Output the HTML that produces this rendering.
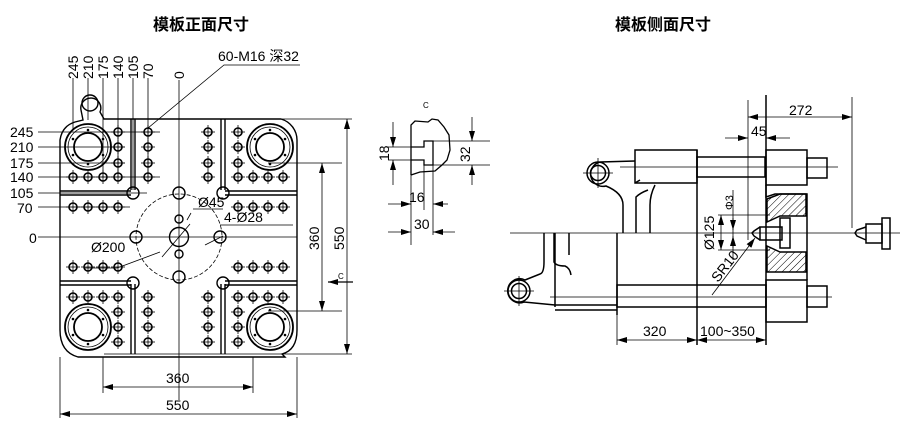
<!DOCTYPE html>
<html><head><meta charset="utf-8"><style>
html,body{margin:0;padding:0;background:#fff;width:900px;height:434px;overflow:hidden}
svg{display:block}
text{font-family:"Liberation Sans","Noto Sans CJK SC",sans-serif;fill:#000}
</style></head><body>
<svg width="900" height="434" viewBox="0 0 900 434" xmlns="http://www.w3.org/2000/svg">
<defs>
<marker id="a" viewBox="0 0 10 6" refX="10" refY="3" markerWidth="10" markerHeight="6" orient="auto-start-reverse" markerUnits="userSpaceOnUse"><path d="M0,0L10,3L0,6z" fill="#000"/></marker>
<pattern id="h" width="5" height="5" patternUnits="userSpaceOnUse" patternTransform="rotate(45)"><line x1="0" y1="0" x2="0" y2="5" stroke="#000" stroke-width="1"/></pattern>
<g id="hole"><circle r="4" fill="none" stroke="#000" stroke-width="1.6"/><line x1="-7" y1="0" x2="7" y2="0" stroke="#000" stroke-width=".8"/><line x1="0" y1="-7" x2="0" y2="7" stroke="#000" stroke-width=".8"/></g>
<g id="tb"><circle r="23" fill="none" stroke="#000" stroke-width="1.8"/><circle r="20" fill="none" stroke="#000" stroke-width=".8"/><circle r="14" fill="none" stroke="#000" stroke-width="1.8"/>
<g fill="#000"><circle cx="0" cy="-17" r="1.3"/><circle cx="0" cy="17" r="1.3"/><circle cx="-15" cy="-8" r="1.3"/><circle cx="15" cy="-8" r="1.3"/><circle cx="-15" cy="8" r="1.3"/><circle cx="15" cy="8" r="1.3"/></g></g>
</defs>
<text x="153" y="30" font-size="16" font-weight="bold">模板正面尺寸</text>
<text x="615" y="30" font-size="16" font-weight="bold">模板侧面尺寸</text>

<g fill="none" stroke="#000" stroke-width="1.4">
<path d="M83,120 L81,110 A10,10 0 1 1 100,112 L104,119 L281,119 A22,22 0 0 1 297,140 L297,330 Q297,350 282,354 L285,357 L78,357 Q60,352 60,330 L60,140 Q62,126 75,122 Z"/>
<circle cx="90" cy="103" r="8"/>
<path d="M131,119V190M135,119V190M221,119V190M225,119V190M60,191H131M60,195H131M225,191H297M225,195H297"/>
<path d="M131,284V354M135,284V354M221,284V354M225,284V354M60,281H131M60,285H131M225,281H297M225,285H297"/>
<circle cx="133" cy="193" r="6"/><circle cx="223" cy="193" r="6"/><circle cx="133" cy="283" r="6"/><circle cx="223" cy="283" r="6"/>
<circle cx="179" cy="193" r="6"/><circle cx="179" cy="277" r="6"/><circle cx="136" cy="237" r="6"/><circle cx="220" cy="237" r="6"/>
<circle cx="179" cy="237" r="9.5"/><circle cx="179" cy="219" r="4"/><circle cx="179" cy="254" r="4"/>
<circle cx="179" cy="237" r="43" stroke-width=".8" stroke-dasharray="4,2"/>
</g>
<use href="#tb" x="88" y="147"/><use href="#tb" x="270" y="147"/><use href="#tb" x="88" y="327"/><use href="#tb" x="270" y="327"/>
<g>
<use href="#hole" x="118" y="132"/><use href="#hole" x="148" y="132"/><use href="#hole" x="118" y="147"/><use href="#hole" x="148" y="147"/><use href="#hole" x="118" y="163"/><use href="#hole" x="148" y="163"/>
<use href="#hole" x="73" y="177"/><use href="#hole" x="88" y="177"/><use href="#hole" x="103" y="177"/><use href="#hole" x="118" y="177"/><use href="#hole" x="148" y="177"/>
<use href="#hole" x="73" y="207"/><use href="#hole" x="88" y="207"/><use href="#hole" x="103" y="207"/><use href="#hole" x="118" y="207"/>
<use href="#hole" x="208" y="132"/><use href="#hole" x="238" y="132"/><use href="#hole" x="208" y="147"/><use href="#hole" x="238" y="147"/><use href="#hole" x="208" y="163"/><use href="#hole" x="238" y="163"/>
<use href="#hole" x="208" y="177"/><use href="#hole" x="238" y="177"/><use href="#hole" x="253" y="177"/><use href="#hole" x="268" y="177"/><use href="#hole" x="283" y="177"/>
<use href="#hole" x="238" y="207"/><use href="#hole" x="253" y="207"/><use href="#hole" x="268" y="207"/><use href="#hole" x="283" y="207"/>
<use href="#hole" x="73" y="267"/><use href="#hole" x="88" y="267"/><use href="#hole" x="103" y="267"/><use href="#hole" x="118" y="267"/>
<use href="#hole" x="73" y="297"/><use href="#hole" x="88" y="297"/><use href="#hole" x="103" y="297"/><use href="#hole" x="118" y="297"/><use href="#hole" x="148" y="297"/>
<use href="#hole" x="118" y="312"/><use href="#hole" x="148" y="312"/><use href="#hole" x="118" y="327"/><use href="#hole" x="148" y="327"/><use href="#hole" x="118" y="342"/><use href="#hole" x="148" y="342"/>
<use href="#hole" x="238" y="267"/><use href="#hole" x="253" y="267"/><use href="#hole" x="268" y="267"/><use href="#hole" x="283" y="267"/>
<use href="#hole" x="208" y="297"/><use href="#hole" x="238" y="297"/><use href="#hole" x="253" y="297"/><use href="#hole" x="268" y="297"/><use href="#hole" x="283" y="297"/>
<use href="#hole" x="208" y="312"/><use href="#hole" x="238" y="312"/><use href="#hole" x="208" y="327"/><use href="#hole" x="238" y="327"/><use href="#hole" x="208" y="342"/><use href="#hole" x="238" y="342"/>
</g>
<g stroke="#000" stroke-width=".8" fill="none">
<path d="M38,132H160M38,147H125M38,163H125M38,177H160M38,193H147M38,207H130M38,237H297"/>
<path d="M88,78V120M103,78V177M118,78V177M133,78V190M148,78V177M73,78V130"/>
<path d="M179,80V400"/>
<path d="M148,128L224,65H300"/>
<path d="M104,119H352M104,354H352M268,163H342M268,311H342"/>
<path d="M347,119V354" marker-start="url(#a)" marker-end="url(#a)"/>
<path d="M322,163V311" marker-start="url(#a)" marker-end="url(#a)"/>
<path d="M60,357V418M297,357V418M103,357V393M253,357V393"/>
<path d="M103,387H253" marker-start="url(#a)" marker-end="url(#a)"/>
<path d="M60,414H297" marker-start="url(#a)" marker-end="url(#a)"/>
<path d="M353,282H328" marker-end="url(#a)" stroke-width="1.2"/>
<path d="M193,209L223,209M187,220L191,213"/>
<path d="M220,225H293M205,245L223,236"/>
<path d="M160,252L117,268H85M190,224L162,257"/>
</g>
<g font-size="14">
<text x="10" y="137">245</text><text x="10" y="152">210</text><text x="10" y="168">175</text><text x="10" y="182">140</text><text x="10" y="198">105</text><text x="17" y="213">70</text><text x="29" y="243">0</text>
<text x="198" y="207">Ø45</text><text x="224" y="222">4-Ø28</text><text x="91" y="252">Ø200</text>
<text x="218" y="61">60-M16 深32</text>
<text x="166" y="383">360</text><text x="166" y="410">550</text>
<text x="338" y="279" font-size="8">C</text>
</g>
<g font-size="14">
<text transform="translate(78,79) rotate(-90)">245</text><text transform="translate(93,79) rotate(-90)">210</text><text transform="translate(108,79) rotate(-90)">175</text><text transform="translate(123,79) rotate(-90)">140</text><text transform="translate(138,79) rotate(-90)">105</text><text transform="translate(153,79) rotate(-90)">70</text><text transform="translate(184,79) rotate(-90)">0</text>
<text transform="translate(319,250) rotate(-90)">360</text><text transform="translate(344,250) rotate(-90)">550</text>
</g>

<g stroke="#000" fill="none" stroke-width="1.3">
<path d="M411,175V125L415,121L428,122L432,119L438,120L444,127L449,135L450,150L447,160L442,165L435,171L420,172L411,175"/>
<path d="M411,147H424V141H433V165H424V160H411"/>
</g>
<g stroke="#000" fill="none" stroke-width=".8">
<path d="M388,147H424M388,160H424M433,141H490M433,165H490"/>
<path d="M393,122V147" marker-end="url(#a)"/><path d="M393,185V160" marker-end="url(#a)"/>
<path d="M472,117V141" marker-end="url(#a)"/><path d="M472,185V165" marker-end="url(#a)"/>
<path d="M411,175V245M433,165V235M424,160V210"/>
<path d="M388,204H411" marker-end="url(#a)"/><path d="M448,204H433" marker-end="url(#a)"/>
<path d="M388,232H411" marker-end="url(#a)"/><path d="M455,232H433" marker-end="url(#a)"/>
</g>
<text x="423" y="108" font-size="8">C</text>
<text transform="translate(389,161) rotate(-90)" font-size="14">18</text>
<text transform="translate(470,162) rotate(-90)" font-size="14">32</text>
<text x="409" y="202" font-size="14">16</text><text x="414" y="229" font-size="14">30</text>

<g stroke="#000" fill="none" stroke-width="1.5">
<rect x="635" y="150" width="62" height="33"/>
<path d="M635,161L600,162A12,12 0 1 0 606,186Q623,193 623,205L623,233M635,183L640,180M655,185Q650,195 650,205V233"/>
<path d="M636,233V197Q640,193 648,190"/>
<circle cx="598" cy="173" r="11"/><circle cx="598" cy="173" r="7.5"/>
<rect x="697" y="157" width="68" height="20"/>
<path d="M697,150V345M766,95V345"/>
<rect x="766" y="150" width="41" height="35"/>
<rect x="807" y="158" width="20" height="20"/>
<path d="M766,185V197L775,194L807,194V280"/>
<rect x="766" y="280" width="41" height="42"/>
<rect x="807" y="286" width="20" height="21"/>
<rect x="617" y="285" width="149" height="22"/>
<path d="M617,233V315M555,233V307M617,305H555M555,310H617"/>
<path d="M544,233V262Q544,273 540,274L525,280A12,12 0 1 0 524,302L555,305"/>
<path d="M554,233V262Q556,266 565,266Q570,268 571,275M569,233V255"/>
<circle cx="519" cy="291" r="11"/><circle cx="519" cy="291" r="7.5"/>
<path d="M767,199L780,194H806V216H780L767,222Z" fill="url(#h)"/>
<path d="M767,246L780,252H806V272H767Z" fill="url(#h)"/>
<rect x="760" y="227" width="22" height="13"/><rect x="780" y="218" width="10" height="30"/>
<rect x="866" y="224" width="16" height="19"/><rect x="882" y="218" width="8" height="31"/>
<path d="M866,227L857,230L855,233L857,236L866,240"/>
<path d="M760,227L754,231L752,233L754,236L760,240"/>
</g>
<g stroke="#000" fill="none" stroke-width=".8">
<path d="M510,233H900M620,167H838M550,297H832M598,158V188M583,173H613M519,276V306M504,291H534"/>
<path d="M748,100V240M852,97V228"/>
<path d="M748,117H852" marker-start="url(#a)" marker-end="url(#a)"/>
<path d="M725,138H748" marker-end="url(#a)"/><path d="M790,138H766" marker-end="url(#a)"/>
<path d="M718,215H770M718,250H770"/>
<path d="M721,215V250" marker-start="url(#a)" marker-end="url(#a)"/>
<path d="M733,190V260"/><path d="M733,218V230" marker-end="url(#a)"/><path d="M733,248V236" marker-end="url(#a)"/>
<path d="M712,295L755,238" marker-end="url(#a)"/>
<path d="M617,315V345"/>
<path d="M617,340H697" marker-start="url(#a)" marker-end="url(#a)"/>
<path d="M697,340H766" marker-start="url(#a)" marker-end="url(#a)"/>
</g>
<g font-size="14">
<text x="789" y="115">272</text><text x="751" y="136">45</text>
<text x="643" y="336">320</text><text x="700" y="336">100~350</text>
<text transform="translate(714,250) rotate(-90)">Ø125</text>
<text transform="translate(733,210) rotate(-90)" font-size="11">Φ3</text>
<text transform="translate(718,283) rotate(-52)">SR10</text>
</g>
</svg>
</body></html>
